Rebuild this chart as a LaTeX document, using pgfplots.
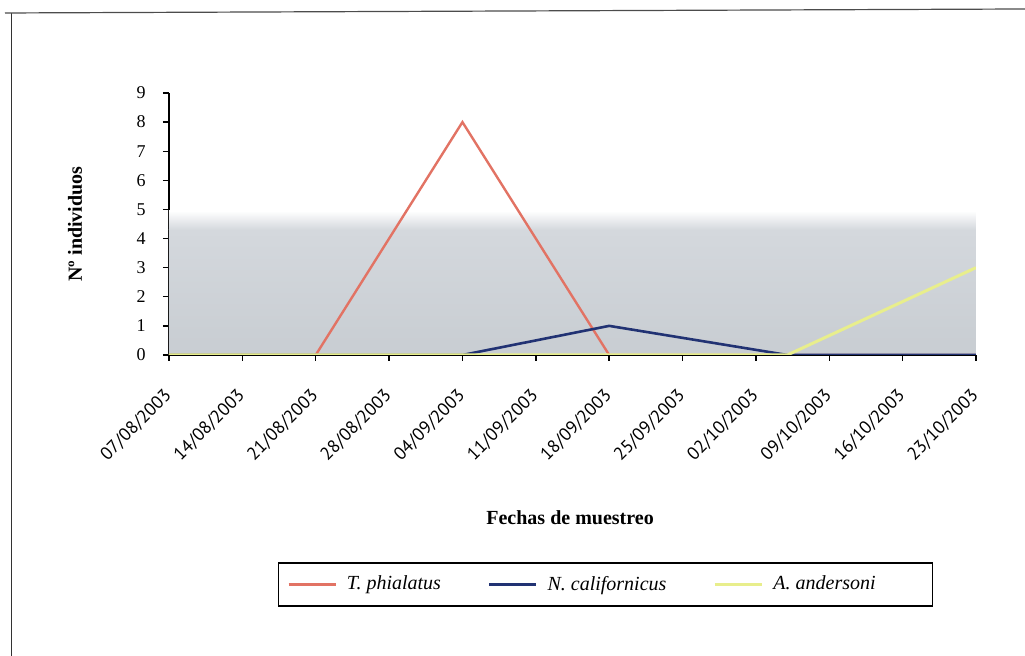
\documentclass[border=0pt]{standalone}
\usepackage{pgfplots}
\pgfplotsset{compat=1.18}
\usepackage{fontspec}
\setmainfont{Liberation Serif}
\newfontfamily\datefont{PT Sans}
\definecolor{redl}{RGB}{226,115,100}
\definecolor{bluel}{RGB}{33,50,115}
\definecolor{yell}{RGB}{232,238,140}
\definecolor{gtop}{RGB}{212,216,221}
\definecolor{gbot}{RGB}{200,205,210}
\begin{document}
\begin{tikzpicture}[x=1pt,y=1pt]
\path[use as bounding box] (0,0) rectangle (512.5,328);
\draw[black!80, line width=0.6pt] (5.75,0) -- (5.75,321.5);
\draw[black!70, line width=0.6pt] (2.5,321.5) -- (512.5,323.5);
\begin{axis}[
  at={(84.5pt,150.5pt)}, anchor=south west,
  scale only axis, width=403.5pt, height=131pt,
  xmin=0, xmax=77, ymin=0, ymax=9,
  axis x line=bottom, axis y line=left,
  axis line style={-, line width=0.7pt},
  xtick={0,7,14,21,28,35,42,49,56,63,70,77},
  xticklabels={07/08/2003,14/08/2003,21/08/2003,28/08/2003,04/09/2003,11/09/2003,18/09/2003,25/09/2003,02/10/2003,09/10/2003,16/10/2003,23/10/2003},
  ytick={0,1,...,9},
  tick align=outside, major tick length=3pt,
  tick style={black, line width=0.7pt},
  /pgf/number format/assume math mode=true,
  yticklabel style={font=\fontsize{9}{10}\selectfont, anchor=east, inner sep=0pt, xshift=-8.5pt},
  xticklabel style={font=\datefont\fontsize{9}{10}\selectfont, anchor=north east, inner sep=0pt, xshift=-3pt, rotate=45},
  xticklabel shift=13pt,
  xlabel={Fechas de muestreo},
  ylabel={Nº individuos},
  xlabel style={font=\bfseries\fontsize{10}{12}\selectfont, at={(axis description cs:0.497,-0.622)}, anchor=center},
  ylabel style={font=\bfseries\fontsize{10}{12}\selectfont, at={(axis description cs:-0.1165,0.5)}, anchor=center},
  legend columns=3,
  legend style={at={(axis description cs:0.541,-0.876)}, anchor=center, draw=black, line width=0.6pt,
    font=\itshape\fontsize{10}{12}\selectfont, inner xsep=4.5pt, inner ysep=4.5pt,
    nodes={inner xsep=0pt},
    /tikz/every odd column/.append style={column sep=5pt},
    /tikz/every even column/.append style={column sep=23.5pt}},
  legend image code/.code={\draw[#1] (0pt,0pt) -- (23.5pt,0pt);},
]
\fill[bottom color=gbot, top color=gtop] (axis cs:0,0) rectangle (axis cs:77,4.3);
\fill[bottom color=gtop, top color=white] (axis cs:0,4.3) rectangle (axis cs:77,4.95);
\addplot[redl, line width=1.2pt, no marks] coordinates {(0,0) (14,0) (28,8) (42,0) (59,0) (77,0)};
\addlegendentry{T. phialatus}
\addplot[bluel, line width=1.3pt, no marks] coordinates {(0,0) (14,0) (28,0) (42,1) (59,0) (77,0)};
\addlegendentry{N. californicus}
\addplot[yell, line width=1.5pt, no marks] coordinates {(0,0) (14,0) (28,0) (42,0) (59,0) (77,3)};
\addlegendentry{A. andersoni\rule{24pt}{0pt}}
\end{axis}
\end{tikzpicture}
\end{document}
